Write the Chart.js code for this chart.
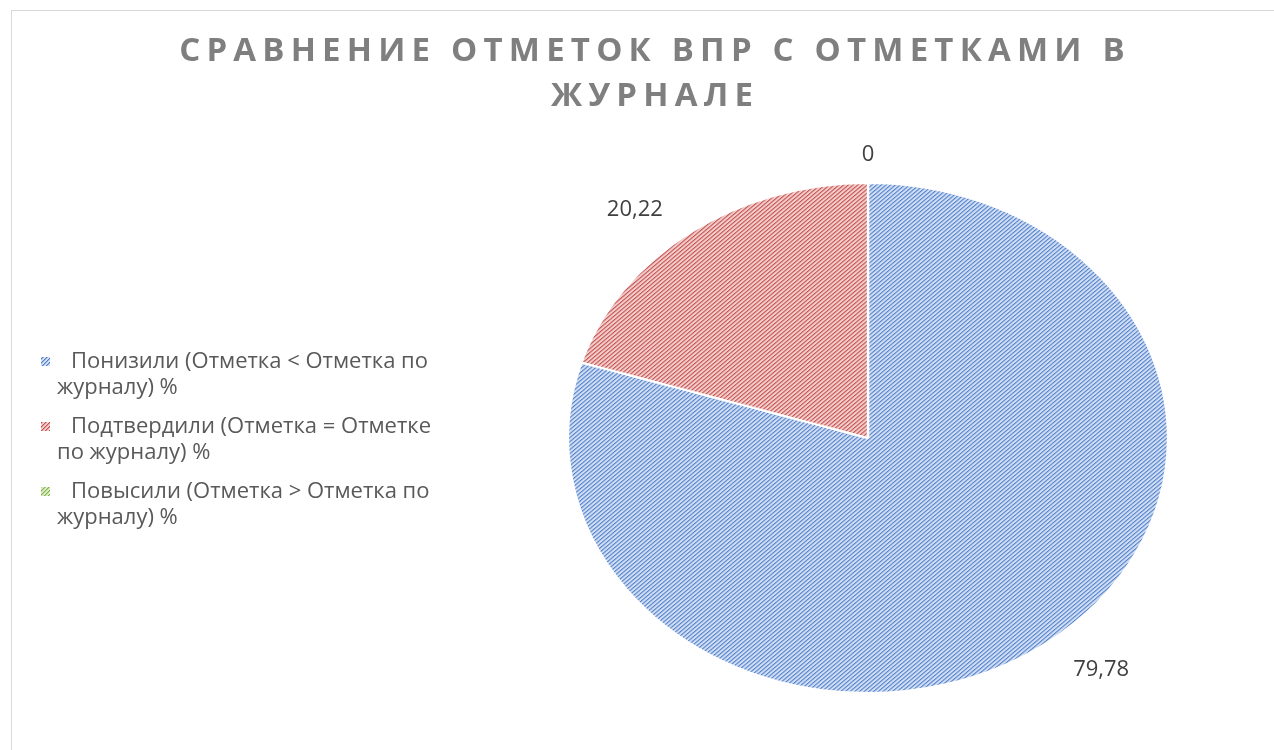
<!DOCTYPE html>
<html>
<head>
<meta charset="utf-8">
<script src="https://cdn.jsdelivr.net/npm/chart.js@4.4.1/dist/chart.umd.min.js"></script>
<style>
  html, body { margin: 0; padding: 0; background: #fff; }
  #wrap { position: relative; width: 1274px; height: 750px; }
  #frame { position: absolute; left: 11px; top: 10px; width: 1280px; height: 760px; border: 1px solid #d9d9d9; box-sizing: border-box; }
  canvas { position: absolute; left: 0; top: 0; }
</style>
</head>
<body>
<div id="wrap">
  <div id="frame"></div>
  <canvas id="chart" width="1274" height="750"></canvas>
</div>
<script>
const titleLines = ["СРАВНЕНИЕ ОТМЕТОК ВПР С ОТМЕТКАМИ В", "ЖУРНАЛЕ"];
const categories = [
    "Понизили (Отметка < Отметка по журналу) %",
    "Подтвердили (Отметка = Отметке по журналу) %",
    "Повысили (Отметка > Отметка по журналу) %",
];
const legendLines = [
    ["Понизили (Отметка < Отметка по", "журналу) %"],
    ["Подтвердили (Отметка = Отметке", "по журналу) %"],
    ["Повысили (Отметка > Отметка по", "журналу) %"],
];
const values = [79.78, 20.22, 0];
const valueLabels = ["79,78", "20,22", "0"];
const lightColors = ["#d3dff3", "#f2cfcf", "#dcebc8"];
const midColors = ["#9db8e3", "#e29a98", "#b7d38f"];
const darkColors = ["#4f7fcb", "#c44f4c", "#86b24c"];

// pie drawn as a circle of radius RY then stretched horizontally to RX
const RX = 300;
const RY = 255;

function makePattern(light, mid, dark) {
    const tile = document.createElement("canvas");
    tile.width = 4;
    tile.height = 4;
    const t = tile.getContext("2d");
    t.fillStyle = light;
    t.fillRect(0, 0, 4, 4);
    for (let i = 0; i < 4; i++) {
        t.fillStyle = dark;
        t.fillRect(i, 3 - i, 1, 1);
        t.fillStyle = mid;
        t.fillRect((i + 1) % 4, 3 - i, 1, 1);
    }
    return t.createPattern(tile, "repeat");
}
const patterns = lightColors.map((c, i) => makePattern(c, midColors[i], darkColors[i]));

const ellipsePlugin = {
    id: "ellipse",
    beforeDatasetsDraw(chart) {
        const arc = chart.getDatasetMeta(0).data[0];
        const ctx = chart.ctx;
        ctx.save();
        ctx.translate(arc.x, arc.y);
        ctx.scale(RX / RY, 1);
        ctx.translate(-arc.x, -arc.y);
    },
    afterDatasetsDraw(chart) {
        const ctx = chart.ctx;
        ctx.restore();
        // value labels, outside end
        const meta = chart.getDatasetMeta(0);
        ctx.save();
        ctx.font = "22px 'Open Sans'";
        ctx.fillStyle = "#404040";
        ctx.textAlign = "center";
        ctx.textBaseline = "middle";
        meta.data.forEach((a, i) => {
            const mid = (a.startAngle + a.endAngle) / 2;
            const x = a.x + Math.cos(mid) * RX * 1.31;
            const y = a.y + Math.sin(mid) * RY * 1.12;
            ctx.fillText(valueLabels[i], x, y + 2);
        });
        ctx.restore();
    },
    afterDraw(chart) {
        const ctx = chart.ctx;
        ctx.save();
        // title
        ctx.font = "bold 33px 'Open Sans'";
        ctx.fillStyle = "#7f7f7f";
        ctx.letterSpacing = "6.2px";
        ctx.textAlign = "center";
        ctx.textBaseline = "alphabetic";
        ctx.fillText(titleLines[0], 655, 61);
        ctx.fillText(titleLines[1], 655, 106);
        // legend
        ctx.letterSpacing = "0px";
        ctx.font = "22px 'Open Sans'";
        ctx.textAlign = "left";
        ctx.textBaseline = "middle";
        legendLines.forEach((lines, i) => {
            const y0 = 362 + i * 65;
            ctx.fillStyle = patterns[i];
            ctx.fillRect(41, y0 - 5, 9, 9);
            ctx.fillStyle = "#595959";
            ctx.fillText(lines[0], 71, y0);
            ctx.fillText(lines[1], 57, y0 + 26);
        });
        ctx.restore();
    },
};

new Chart(document.getElementById("chart"), {
    type: "pie",
    data: {
        labels: categories,
        datasets: [
            {
                data: values,
                backgroundColor: patterns,
                borderColor: "#ffffff",
                borderWidth: 2,
            },
        ],
    },
    options: {
        responsive: false,
        animation: false,
        layout: { padding: { left: 612, right: 150, top: 181, bottom: 55 } },
        plugins: {
            legend: { display: false },
            title: { display: false },
            tooltip: { enabled: false },
        },
    },
    plugins: [ellipsePlugin],
});
</script>
</body>
</html>
